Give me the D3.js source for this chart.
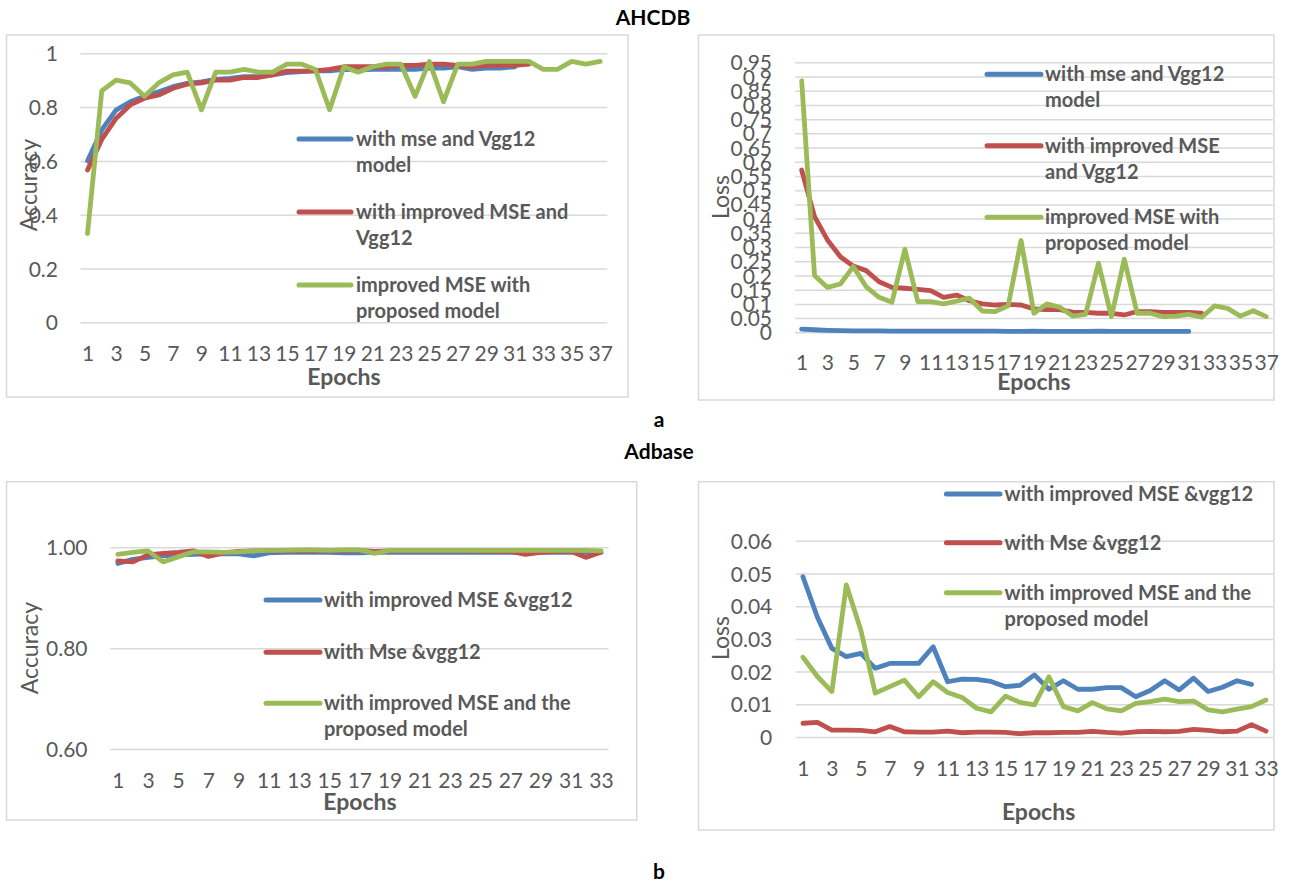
<!DOCTYPE html>
<html><head><meta charset="utf-8">
<script src="https://cdn.jsdelivr.net/npm/d3@7"></script>
<style>
html,body{margin:0;padding:0;background:#fff;}
svg{display:block;font-family:Lato,"Open Sans",sans-serif;}
</style></head>
<body>
<svg id="chart" width="1294" height="882"></svg>
<script>
// ---------- DATA ----------
const epochsA = [1,2,3,4,5,6,7,8,9,10,11,12,13,14,15,16,17,18,19,20,21,22,23,24,25,26,27,28,29,30,31,32,33,34,35,36,37];
const epochsB = [1,2,3,4,5,6,7,8,9,10,11,12,13,14,15,16,17,18,19,20,21,22,23,24,25,26,27,28,29,30,31,32,33];

// AHCDB accuracy
const accMseVgg12A = [0.60,0.715,0.789,0.82,0.84,0.857,0.876,0.888,0.894,0.903,0.907,0.913,0.913,0.92,0.928,0.932,0.935,0.935,0.94,0.938,0.94,0.94,0.94,0.94,0.945,0.945,0.95,0.94,0.945,0.945,0.95];
const accImpMseVgg12A = [0.566,0.68,0.758,0.808,0.833,0.845,0.87,0.885,0.89,0.90,0.90,0.91,0.91,0.92,0.934,0.934,0.935,0.94,0.95,0.95,0.95,0.95,0.955,0.955,0.96,0.96,0.955,0.95,0.955,0.955,0.955,0.96];
const accProposedA = [0.33,0.86,0.90,0.89,0.84,0.89,0.92,0.93,0.79,0.93,0.93,0.94,0.93,0.93,0.96,0.96,0.94,0.79,0.95,0.93,0.95,0.96,0.96,0.84,0.97,0.82,0.96,0.96,0.97,0.97,0.97,0.97,0.94,0.94,0.97,0.96,0.97];

// AHCDB loss
const lossMseVgg12A = [0.011,0.009,0.007,0.006,0.005,0.005,0.005,0.004,0.004,0.004,0.004,0.004,0.004,0.004,0.004,0.004,0.003,0.003,0.004,0.003,0.003,0.003,0.003,0.004,0.003,0.003,0.003,0.003,0.003,0.003,0.003];
const lossImpMseVgg12A = [0.571,0.407,0.325,0.266,0.233,0.217,0.178,0.158,0.155,0.151,0.147,0.123,0.131,0.111,0.10,0.096,0.098,0.096,0.082,0.08,0.08,0.071,0.07,0.067,0.067,0.061,0.073,0.073,0.07,0.07,0.07,0.067];
const lossProposedA = [0.885,0.20,0.158,0.17,0.231,0.16,0.123,0.106,0.292,0.108,0.108,0.10,0.11,0.12,0.075,0.073,0.093,0.323,0.067,0.10,0.088,0.057,0.063,0.243,0.055,0.257,0.067,0.067,0.055,0.057,0.063,0.053,0.093,0.084,0.057,0.076,0.055];

// Adbase accuracy
const accImpMseVgg12B = [0.968,0.976,0.98,0.983,0.985,0.986,0.987,0.987,0.987,0.983,0.989,0.99,0.99,0.99,0.99,0.989,0.989,0.99,0.99,0.99,0.99,0.99,0.99,0.99,0.99,0.99,0.99,0.99,0.99,0.99,0.99,0.99,0.99];
const accMseVgg12B = [0.973,0.971,0.985,0.988,0.99,0.993,0.982,0.989,0.992,0.993,0.993,0.993,0.993,0.993,0.993,0.993,0.994,0.992,0.993,0.993,0.993,0.993,0.993,0.993,0.992,0.992,0.992,0.986,0.99,0.992,0.992,0.98,0.99];
const accProposedB = [0.986,0.99,0.993,0.971,0.981,0.991,0.991,0.99,0.991,0.993,0.994,0.994,0.995,0.995,0.994,0.995,0.995,0.988,0.994,0.994,0.994,0.994,0.994,0.994,0.994,0.994,0.994,0.994,0.994,0.994,0.994,0.994,0.993];

// Adbase loss
const lossImpMseVgg12B = [0.049,0.0366,0.0271,0.0246,0.0256,0.021,0.0225,0.0225,0.0225,0.0276,0.0169,0.0177,0.0176,0.017,0.0154,0.0158,0.019,0.0146,0.0172,0.0146,0.0146,0.0151,0.0151,0.0123,0.0142,0.0172,0.0144,0.018,0.0139,0.0152,0.0172,0.0161];
const lossMseVgg12B = [0.0042,0.0045,0.0021,0.0021,0.002,0.0016,0.0032,0.0016,0.0015,0.0015,0.0018,0.0013,0.0015,0.0015,0.0014,0.001,0.0013,0.0013,0.0014,0.0014,0.0017,0.0014,0.0012,0.0016,0.0017,0.0016,0.0017,0.0023,0.002,0.0016,0.0018,0.0038,0.0018];
const lossProposedB = [0.0244,0.0185,0.0139,0.0465,0.0327,0.0134,0.0154,0.0174,0.0123,0.0169,0.0136,0.0121,0.0088,0.0077,0.0125,0.0106,0.0098,0.0184,0.0093,0.008,0.0105,0.0086,0.008,0.0103,0.0108,0.0116,0.0108,0.011,0.0083,0.0077,0.0085,0.0093,0.0113];

// tick values
const ticksAccA = [0,0.2,0.4,0.6,0.8,1];
const ticksLossA = [0,0.05,0.1,0.15,0.2,0.25,0.3,0.35,0.4,0.45,0.5,0.55,0.6,0.65,0.7,0.75,0.8,0.85,0.9,0.95];
const ticksAccB = [0.6,0.8,1.0];
const ticksLossB = [0,0.01,0.02,0.03,0.04,0.05,0.06];

// legend labels
const legendAccA = [["with mse and Vgg12","model"],["with improved MSE and","Vgg12"],["improved MSE with","proposed model"]];
const legendLossA = [["with mse and Vgg12","model"],["with improved MSE","and Vgg12"],["improved MSE with","proposed model"]];
const legendB = [["with improved MSE &vgg12"],["with Mse &vgg12"],["with improved MSE and the","proposed model"]];

const titles = [{t:"AHCDB",x:653,y:18},{t:"a",x:659,y:420},{t:"Adbase",x:659,y:452},{t:"b",x:659,y:872}];

// ---------- STYLE ----------
const COLORS = ["#4F81BD","#C0504D","#9BBB59"];
const GRID = "#D9D9D9";
const TXT = "#595959";

const svg = d3.select("#chart");

titles.forEach(d => {
  svg.append("text").attr("x",d.x).attr("y",d.y).attr("dy","0.35em")
    .attr("text-anchor","middle").attr("font-weight","bold").attr("font-size",21)
    .attr("fill","#000").text(d.t);
});

function panel(cfg){
  const g = svg.append("g");
  g.append("rect").attr("x",cfg.box[0]).attr("y",cfg.box[1])
    .attr("width",cfg.box[2]-cfg.box[0]).attr("height",cfg.box[3]-cfg.box[1])
    .attr("fill","#fff").attr("stroke",GRID).attr("stroke-width",1.5);

  const x = d3.scalePoint().domain(cfg.cats).range(cfg.xr).padding(0.5);
  const y = d3.scaleLinear().domain(cfg.yd).range(cfg.yr);

  const grid = g.append("g").attr("transform",`translate(${cfg.xr[0]},0)`)
    .call(d3.axisLeft(y).tickValues(cfg.ticks).tickSize(-(cfg.xr[1]-cfg.xr[0])).tickFormat(""));
  grid.select(".domain").remove();
  grid.selectAll("line").attr("stroke",GRID).attr("stroke-width",1.5);

  const ya = g.append("g").attr("transform",`translate(${cfg.ylabX},0)`)
    .call(d3.axisLeft(y).tickValues(cfg.ticks).tickSize(0).tickPadding(0).tickFormat(cfg.fmt));
  ya.select(".domain").remove();
  ya.selectAll("text").attr("font-family","Lato").attr("font-size",21).attr("fill",TXT).attr("dy","0.36em");

  const xa = g.append("g").attr("transform",`translate(0,${cfg.xlabY})`)
    .call(d3.axisBottom(x).tickValues(cfg.cats.filter((d,i)=>i%2===0)).tickSize(0).tickPadding(0));
  xa.select(".domain").remove();
  xa.selectAll("text").attr("y",0).attr("dy","0.36em").attr("font-family","Lato").attr("font-size",21).attr("fill",TXT);

  g.append("text").attr("transform",`translate(${cfg.yTitle[0]},${cfg.yTitle[1]}) rotate(-90)`)
    .attr("text-anchor","middle").attr("dy","0.35em").attr("font-size",23).attr("fill",TXT).text(cfg.yTitleText);
  g.append("text").attr("x",cfg.xTitle[0]).attr("y",cfg.xTitle[1]).attr("dy","0.35em")
    .attr("text-anchor","middle").attr("font-size",23).attr("font-weight","bold").attr("fill",TXT).text("Epochs");

  const line = d3.line().x((d,i)=>x(cfg.cats[i])).y(d=>y(d));
  cfg.series.forEach((s,k)=>{
    g.append("path").datum(s).attr("d",line).attr("fill","none")
      .attr("stroke",COLORS[k]).attr("stroke-width",4.8)
      .attr("stroke-linejoin","round").attr("stroke-linecap","round");
  });

  cfg.legend.forEach((lines,k)=>{
    const yy = cfg.legY[k];
    g.append("line").attr("x1",cfg.legX[0]).attr("x2",cfg.legX[1]).attr("y1",yy).attr("y2",yy)
      .attr("stroke",COLORS[k]).attr("stroke-width",5).attr("stroke-linecap","round");
    lines.forEach((t,j)=>{
      g.append("text").attr("x",cfg.legX[2]).attr("y",yy + j*cfg.legLH).attr("dy","0.35em")
        .attr("font-size",20).attr("font-weight","bold").attr("fill",TXT).text(t);
    });
  });
}

const fmtGeneral = d => d3.format("~g")(d);

panel({
  box:[6.5,35,628,397], cats:epochsA, xr:[80.4,607.3], yd:[0,1], yr:[322.3,53.3],
  ticks:ticksAccA, fmt:fmtGeneral, ylabX:58, xlabY:353,
  yTitle:[29,185], yTitleText:"Accuracy", xTitle:[344,377],
  series:[accMseVgg12A, accImpMseVgg12A, accProposedA],
  legend:legendAccA, legX:[299,351,356], legY:[139,212,285], legLH:26
});

panel({
  box:[698.5,35,1274,400], cats:epochsA, xr:[795.2,1272.7], yd:[0,0.95], yr:[332.3,62.3],
  ticks:ticksLossA, fmt:fmtGeneral, ylabX:772, xlabY:362,
  yTitle:[720.6,197], yTitleText:"Loss", xTitle:[1034,382],
  series:[lossMseVgg12A, lossImpMseVgg12A, lossProposedA],
  legend:legendLossA, legX:[987,1041,1045], legY:[74.3,145.7,217.3], legLH:26
});

panel({
  box:[6.5,481.7,636.8,820], cats:epochsB, xr:[110.25,608.5], yd:[0.6,1.0], yr:[749,547.3],
  ticks:ticksAccB, fmt:d3.format(".2f"), ylabX:87.5, xlabY:780,
  yTitle:[29.5,648], yTitleText:"Accuracy", xTitle:[360,801.7],
  series:[accImpMseVgg12B, accMseVgg12B, accProposedB],
  legend:legendB, legX:[266,320,324], legY:[600,652.3,703.3], legLH:26
});

panel({
  box:[698.5,481.7,1274,830], cats:epochsB, xr:[795.7,1273.2], yd:[0,0.06], yr:[737,540.8],
  ticks:ticksLossB, fmt:fmtGeneral, ylabX:772.3, xlabY:768.3,
  yTitle:[720.6,638], yTitleText:"Loss", xTitle:[1038.6,811.7],
  series:[lossImpMseVgg12B, lossMseVgg12B, lossProposedB],
  legend:legendB, legX:[946.4,1000,1004.6], legY:[494,542.7,592.7], legLH:26
});
</script>
</body></html>
